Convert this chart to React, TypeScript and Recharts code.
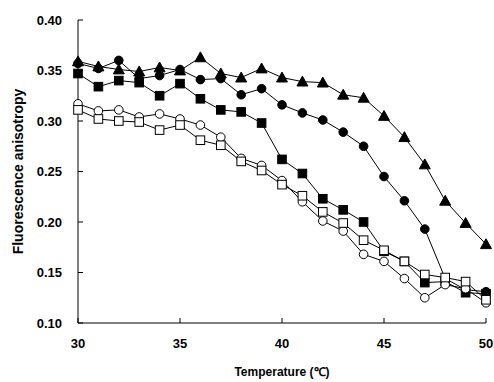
import React from 'react';
import { LineChart, Line, XAxis, YAxis, Label } from 'recharts';

// temperature (°C)
const temps = [30, 31, 32, 33, 34, 35, 36, 37, 38, 39, 40, 41, 42, 43, 44, 45, 46, 47, 48, 49, 50];

// fluorescence anisotropy per series
const filledTriangle = [0.359, 0.354, 0.351, 0.349, 0.353, 0.35, 0.363, 0.347, 0.343, 0.352, 0.343, 0.339, 0.338, 0.326, 0.323, 0.305, 0.284, 0.257, 0.221, 0.199, 0.178];
const filledCircle = [0.357, 0.352, 0.36, 0.342, 0.345, 0.351, 0.341, 0.342, 0.326, 0.332, 0.316, 0.308, 0.301, 0.289, 0.275, 0.245, 0.221, 0.193, 0.144, 0.133, 0.131];
const filledSquare = [0.347, 0.334, 0.34, 0.338, 0.325, 0.337, 0.322, 0.311, 0.309, 0.298, 0.262, 0.248, 0.223, 0.212, 0.2, 0.171, 0.161, 0.14, 0.141, 0.13, 0.129];
const openCircle = [0.317, 0.31, 0.311, 0.304, 0.307, 0.302, 0.296, 0.284, 0.263, 0.256, 0.241, 0.22, 0.201, 0.191, 0.168, 0.161, 0.144, 0.125, 0.138, 0.134, 0.12];
const openSquare = [0.311, 0.302, 0.3, 0.299, 0.291, 0.296, 0.281, 0.276, 0.26, 0.251, 0.237, 0.226, 0.21, 0.199, 0.182, 0.172, 0.161, 0.148, 0.145, 0.141, 0.123];

const xTicks = [30, 35, 40, 45, 50];
const yTicks = [0.1, 0.15, 0.2, 0.25, 0.3, 0.35, 0.4];

const data = temps.map((t, i) => ({
  t,
  tri: filledTriangle[i],
  fc: filledCircle[i],
  fs: filledSquare[i],
  oc: openCircle[i],
  os: openSquare[i],
}));

const FONT = '"Liberation Sans", Arial, sans-serif';
const TICK_GAP = 16;
const TICK_LEN = 5;

const makeDot = (kind: string) => (props: any) => {
  const { cx, cy, index } = props;
  if (cx == null || cy == null) return <g key={index} />;
  const filled = kind[0] === 'f';
  const fill = filled ? '#000' : '#fff';
  if (kind === 'tri') {
    const s = 5.5;
    return (
      <polygon
        key={index}
        points={`${cx},${cy - s} ${cx - s},${cy + s * 0.8} ${cx + s},${cy + s * 0.8}`}
        fill="#000"
        stroke="#000"
      />
    );
  }
  if (kind === 'fc' || kind === 'oc') {
    return <circle key={index} cx={cx} cy={cy} r={4.3} fill={fill} stroke="#000" strokeWidth={1} />;
  }
  return <rect key={index} x={cx - 4.3} y={cy - 4.3} width={8.6} height={8.6} fill={fill} stroke="#000" strokeWidth={1} />;
};

const YTick = (props: any) => {
  const { x, y, payload } = props;
  const ax = x + TICK_GAP;
  return (
    <g>
      <line x1={ax} y1={y} x2={ax + TICK_LEN} y2={y} stroke="#000" strokeWidth={1} />
      <text x={x} y={y} dy="0.36em" textAnchor="end" fontFamily={FONT} fontSize={13} fontWeight="bold" fill="#000">
        {payload.value.toFixed(2)}
      </text>
    </g>
  );
};

const XTick = (props: any) => {
  const { x, y, payload } = props;
  const ay = y - TICK_GAP;
  return (
    <g>
      <line x1={x} y1={ay} x2={x} y2={ay - TICK_LEN} stroke="#000" strokeWidth={1} />
      <text x={x} y={y} dy="0.71em" textAnchor="middle" fontFamily={FONT} fontSize={13} fontWeight="bold" fill="#000">
        {payload.value}
      </text>
    </g>
  );
};

const series = [
  { key: 'tri' },
  { key: 'fc' },
  { key: 'fs' },
  { key: 'oc' },
  { key: 'os' },
];

export default function App() {
  return (
    <div style={{ position: 'absolute', left: 0, top: 0, width: 494, height: 382, background: '#fff' }}>
      <LineChart width={494} height={382} data={data} margin={{ top: 20, right: 8, bottom: 29, left: 18 }}>
        <XAxis
          dataKey="t"
          type="number"
          domain={[30, 50]}
          ticks={xTicks}
          tickSize={0}
          tickMargin={TICK_GAP}
          tick={<XTick />}
          height={30}
          stroke="#000"
          axisLine={{ stroke: '#000', strokeWidth: 1 }}
        >
          <Label
            value="Temperature (℃)"
            position="insideBottom"
            offset={-23}
            style={{ fontFamily: FONT, fontSize: 12, fontWeight: 'bold', fill: '#000' }}
          />
        </XAxis>
        <YAxis
          type="number"
          domain={[0.1, 0.4]}
          ticks={yTicks}
          tickSize={0}
          tickMargin={TICK_GAP}
          tick={<YTick />}
          width={60}
          stroke="#000"
          axisLine={{ stroke: '#000', strokeWidth: 1 }}
        >
          <Label
            value="Fluorescence anisotropy"
            angle={-90}
            position="insideLeft"
            offset={0}
            style={{ textAnchor: 'middle', fontFamily: FONT, fontSize: 14, fontWeight: 'bold', fill: '#000' }}
          />
        </YAxis>
        {series.map((s) => (
          <Line
            key={s.key}
            dataKey={s.key}
            type="linear"
            stroke="#000"
            strokeWidth={1}
            dot={makeDot(s.key)}
            activeDot={false}
            isAnimationActive={false}
          />
        ))}
      </LineChart>
    </div>
  );
}
